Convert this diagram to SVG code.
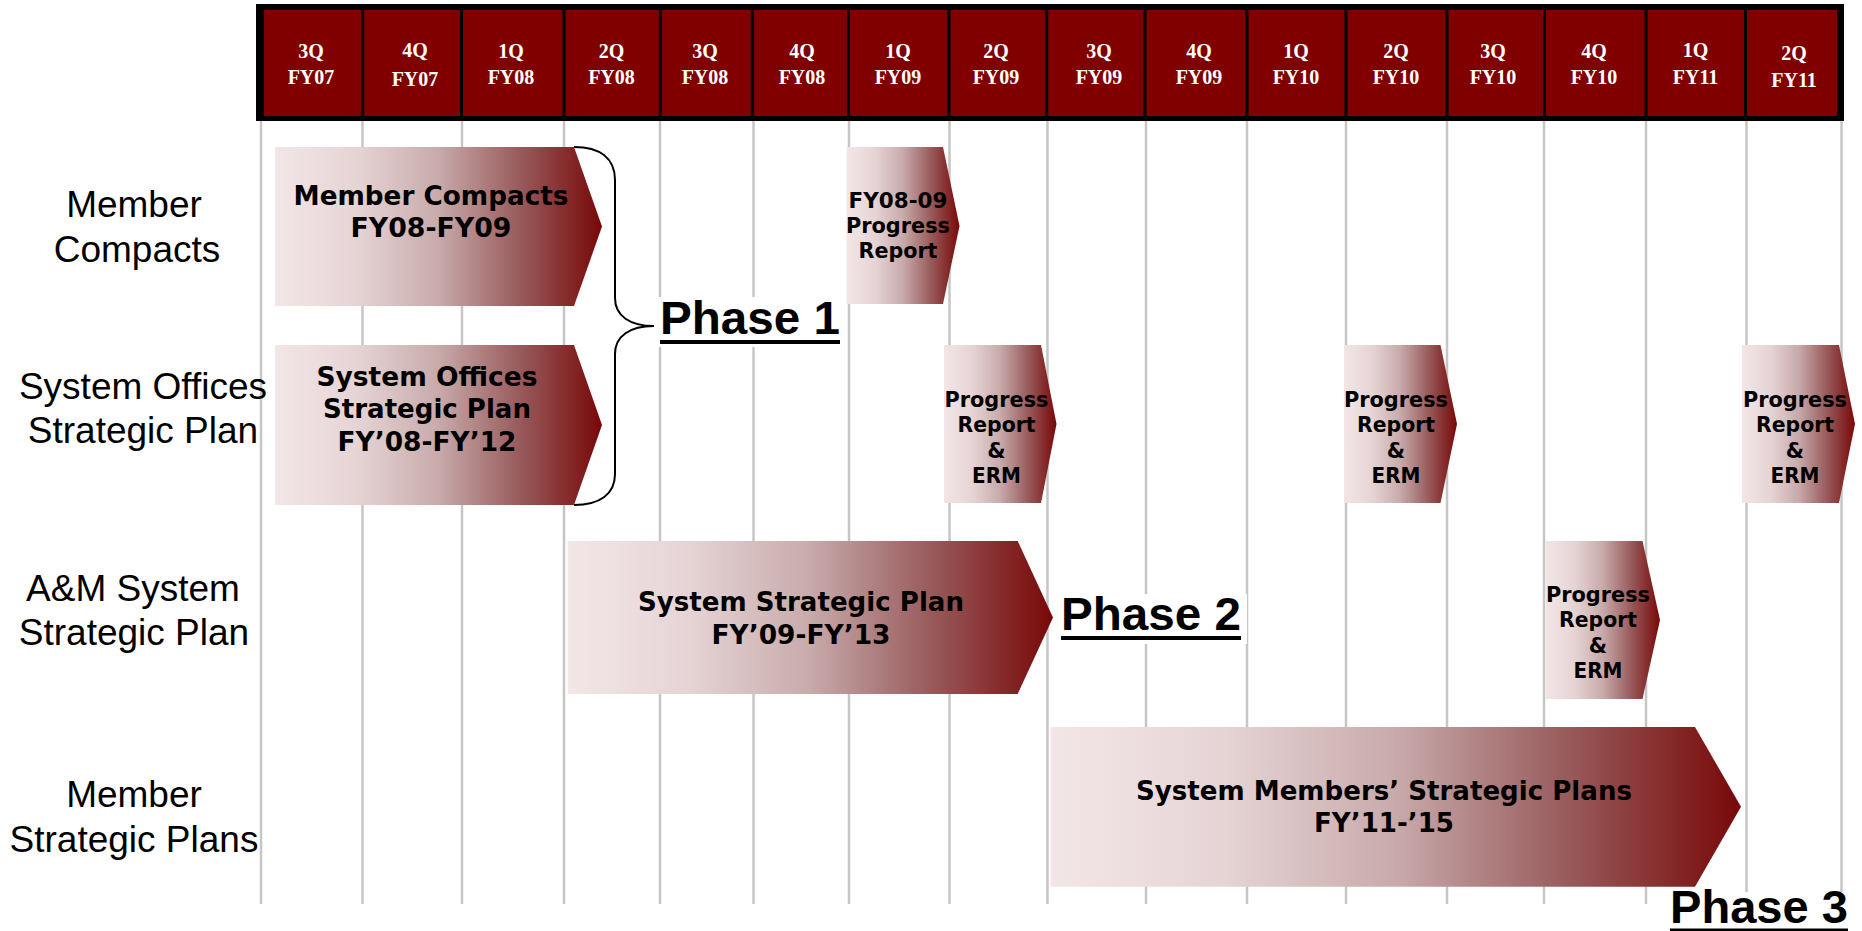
<svg xmlns="http://www.w3.org/2000/svg" width="1862" height="931" viewBox="0 0 1862 931">
<defs>
<linearGradient id="grad" x1="0" y1="0" x2="1" y2="0">
<stop offset="0" stop-color="#f3e6e7"/>
<stop offset="0.25" stop-color="#e6d4d5"/>
<stop offset="0.5" stop-color="#c8aaab"/>
<stop offset="0.75" stop-color="#985a5b"/>
<stop offset="1" stop-color="#780808"/>
</linearGradient>
<style>
.grid{stroke:#c6c6c6;stroke-width:2.5}
.div{stroke:#000;stroke-width:3}
.hdr{font-family:"Liberation Serif","Times New Roman",serif;font-weight:bold;font-size:20px;fill:#ffffff;text-anchor:middle}
.lbl{font-family:"Liberation Sans",Arial,sans-serif;font-size:37px;fill:#000;text-anchor:middle}
.box{fill:url(#grad)}
.bt{font-family:"DejaVu Sans","Noto Sans",sans-serif;font-weight:bold;font-size:26px;fill:#000;text-anchor:middle}
.st{font-family:"DejaVu Sans","Noto Sans",sans-serif;font-weight:bold;font-size:21px;fill:#000;text-anchor:middle}
.ph{font-family:"Liberation Sans",Arial,sans-serif;font-weight:bold;font-size:47px;fill:#000}
.ul{fill:#000}
</style>
</defs>
<rect x="0" y="0" width="1862" height="931" fill="#ffffff"/>

<g id="grid">
<line class="grid" x1="261" y1="121" x2="261" y2="904"/>
<line class="grid" x1="362.5" y1="121" x2="362.5" y2="904"/>
<line class="grid" x1="462" y1="121" x2="462" y2="904"/>
<line class="grid" x1="564" y1="121" x2="564" y2="904"/>
<line class="grid" x1="660" y1="121" x2="660" y2="904"/>
<line class="grid" x1="753.5" y1="121" x2="753.5" y2="904"/>
<line class="grid" x1="849" y1="121" x2="849" y2="904"/>
<line class="grid" x1="949.5" y1="121" x2="949.5" y2="904"/>
<line class="grid" x1="1047.5" y1="121" x2="1047.5" y2="904"/>
<line class="grid" x1="1146" y1="121" x2="1146" y2="904"/>
<line class="grid" x1="1247" y1="121" x2="1247" y2="904"/>
<line class="grid" x1="1346" y1="121" x2="1346" y2="904"/>
<line class="grid" x1="1447" y1="121" x2="1447" y2="904"/>
<line class="grid" x1="1544" y1="121" x2="1544" y2="904"/>
<line class="grid" x1="1646" y1="121" x2="1646" y2="904"/>
<line class="grid" x1="1746.5" y1="121" x2="1746.5" y2="904"/>
<line class="grid" x1="1841.5" y1="121" x2="1841.5" y2="904"/>
</g>

<g id="header">
<rect x="256" y="4" width="1588" height="117" fill="#000"/>
<rect x="264" y="10" width="1573" height="106" fill="#800000"/>
<line class="div" x1="362.7" y1="10" x2="362.7" y2="116"/>
<line class="div" x1="461.5" y1="10" x2="461.5" y2="116"/>
<line class="div" x1="564" y1="10" x2="564" y2="116"/>
<line class="div" x1="660.3" y1="10" x2="660.3" y2="116"/>
<line class="div" x1="752.3" y1="10" x2="752.3" y2="116"/>
<line class="div" x1="848.5" y1="10" x2="848.5" y2="116"/>
<line class="div" x1="949" y1="10" x2="949" y2="116"/>
<line class="div" x1="1046.8" y1="10" x2="1046.8" y2="116"/>
<line class="div" x1="1145" y1="10" x2="1145" y2="116"/>
<line class="div" x1="1247" y1="10" x2="1247" y2="116"/>
<line class="div" x1="1346" y1="10" x2="1346" y2="116"/>
<line class="div" x1="1447" y1="10" x2="1447" y2="116"/>
<line class="div" x1="1544.5" y1="10" x2="1544.5" y2="116"/>
<line class="div" x1="1646" y1="10" x2="1646" y2="116"/>
<line class="div" x1="1745.5" y1="10" x2="1745.5" y2="116"/>
<text class="hdr" x="311" y="58">3Q</text><text class="hdr" x="311" y="84">FY07</text>
<text class="hdr" x="415" y="57">4Q</text><text class="hdr" x="415" y="86">FY07</text>
<text class="hdr" x="511" y="58">1Q</text><text class="hdr" x="511" y="84">FY08</text>
<text class="hdr" x="611.5" y="58">2Q</text><text class="hdr" x="611.5" y="84">FY08</text>
<text class="hdr" x="705" y="58">3Q</text><text class="hdr" x="705" y="84">FY08</text>
<text class="hdr" x="802" y="58">4Q</text><text class="hdr" x="802" y="84">FY08</text>
<text class="hdr" x="898" y="58">1Q</text><text class="hdr" x="898" y="84">FY09</text>
<text class="hdr" x="996" y="58">2Q</text><text class="hdr" x="996" y="84">FY09</text>
<text class="hdr" x="1099" y="58">3Q</text><text class="hdr" x="1099" y="84">FY09</text>
<text class="hdr" x="1199" y="58">4Q</text><text class="hdr" x="1199" y="84">FY09</text>
<text class="hdr" x="1296" y="58">1Q</text><text class="hdr" x="1296" y="84">FY10</text>
<text class="hdr" x="1396" y="58">2Q</text><text class="hdr" x="1396" y="84">FY10</text>
<text class="hdr" x="1493" y="58">3Q</text><text class="hdr" x="1493" y="84">FY10</text>
<text class="hdr" x="1594" y="58">4Q</text><text class="hdr" x="1594" y="84">FY10</text>
<text class="hdr" x="1695.5" y="57">1Q</text><text class="hdr" x="1695.5" y="84">FY11</text>
<text class="hdr" x="1794" y="60">2Q</text><text class="hdr" x="1794" y="87">FY11</text>
</g>

<g id="row-labels">
<text class="lbl" x="134" y="217">Member</text>
<text class="lbl" x="137" y="262">Compacts</text>
<text class="lbl" x="143" y="399">System Offices</text>
<text class="lbl" x="143" y="443">Strategic Plan</text>
<text class="lbl" x="133" y="601">A&amp;M System</text>
<text class="lbl" x="134" y="645">Strategic Plan</text>
<text class="lbl" x="134" y="807">Member</text>
<text class="lbl" x="134" y="852">Strategic Plans</text>
</g>

<g id="phase-backgrounds" fill="#ffffff">
<rect x="655" y="297" width="190" height="50"/>
<rect x="1055" y="594" width="192" height="50"/>
<rect x="1660" y="892" width="202" height="39"/>
</g>

<g id="member-compacts">
<polygon class="box" points="275,147 574,147 602,226.5 574,306 275,306"/>
<text class="bt" x="431" y="205" textLength="275" lengthAdjust="spacingAndGlyphs">Member Compacts</text>
<text class="bt" x="431" y="237" textLength="161" lengthAdjust="spacingAndGlyphs">FY08-FY09</text>
</g>

<g id="system-offices-plan">
<polygon class="box" points="275,345 574,345 602,425 574,505 275,505"/>
<text class="bt" x="427" y="386" textLength="221" lengthAdjust="spacingAndGlyphs">System Offices</text>
<text class="bt" x="427" y="418" textLength="208" lengthAdjust="spacingAndGlyphs">Strategic Plan</text>
<text class="bt" x="427" y="451" textLength="179" lengthAdjust="spacingAndGlyphs">FY’08-FY’12</text>
</g>

<g id="fy0809-progress-report">
<polygon class="box" points="846.5,147 943,147 959.5,226 943,304 846.5,304"/>
<text class="st" x="898" y="208" textLength="99" lengthAdjust="spacingAndGlyphs">FY08-09</text>
<text class="st" x="898" y="233" textLength="104" lengthAdjust="spacingAndGlyphs">Progress</text>
<text class="st" x="898" y="258" textLength="79" lengthAdjust="spacingAndGlyphs">Report</text>
</g>

<g id="progress-erm-1">
<polygon class="box" points="944,345 1041,345 1056.5,424 1041,503 944,503"/>
<text class="st" x="996.5" y="407" textLength="104" lengthAdjust="spacingAndGlyphs">Progress</text>
<text class="st" x="996.5" y="432" textLength="78" lengthAdjust="spacingAndGlyphs">Report</text>
<text class="st" x="996.5" y="457.5">&amp;</text>
<text class="st" x="996.5" y="482.5" textLength="49" lengthAdjust="spacingAndGlyphs">ERM</text>
</g>

<g id="progress-erm-2">
<polygon class="box" points="1344,345 1440.5,345 1457,424 1440.5,503 1344,503"/>
<text class="st" x="1396" y="407" textLength="104" lengthAdjust="spacingAndGlyphs">Progress</text>
<text class="st" x="1396" y="432" textLength="78" lengthAdjust="spacingAndGlyphs">Report</text>
<text class="st" x="1396" y="457.5">&amp;</text>
<text class="st" x="1396" y="482.5" textLength="49" lengthAdjust="spacingAndGlyphs">ERM</text>
</g>

<g id="progress-erm-3">
<polygon class="box" points="1742,345 1839,345 1855,424 1839,503 1742,503"/>
<text class="st" x="1795" y="407" textLength="104" lengthAdjust="spacingAndGlyphs">Progress</text>
<text class="st" x="1795" y="432" textLength="78" lengthAdjust="spacingAndGlyphs">Report</text>
<text class="st" x="1795" y="457.5">&amp;</text>
<text class="st" x="1795" y="482.5" textLength="49" lengthAdjust="spacingAndGlyphs">ERM</text>
</g>

<g id="system-strategic-plan">
<polygon class="box" points="567.7,541 1017.7,541 1053,617.5 1017.7,694 567.7,694"/>
<text class="bt" x="801" y="611" textLength="326" lengthAdjust="spacingAndGlyphs">System Strategic Plan</text>
<text class="bt" x="801" y="644" textLength="179" lengthAdjust="spacingAndGlyphs">FY’09-FY’13</text>
</g>

<g id="progress-erm-4">
<polygon class="box" points="1545.5,541 1642.5,541 1660,620 1642.5,699 1545.5,699"/>
<text class="st" x="1598" y="602" textLength="104" lengthAdjust="spacingAndGlyphs">Progress</text>
<text class="st" x="1598" y="627" textLength="78" lengthAdjust="spacingAndGlyphs">Report</text>
<text class="st" x="1598" y="653">&amp;</text>
<text class="st" x="1598" y="678" textLength="49" lengthAdjust="spacingAndGlyphs">ERM</text>
</g>

<g id="system-members-plans">
<polygon class="box" points="1050.5,727 1695,727 1741,806.7 1695,886.7 1050.5,886.7"/>
<text class="bt" x="1384" y="800" textLength="496" lengthAdjust="spacingAndGlyphs">System Members’ Strategic Plans</text>
<text class="bt" x="1384" y="832" textLength="140" lengthAdjust="spacingAndGlyphs">FY’11-’15</text>
</g>

<g id="connectors">
<path d="M574,147 C600,147 615,158 615,180 L615,298 C615,316 630,326 654,326 C630,326 615,336 615,354 L615,474 C615,494 600,505 574,505" fill="none" stroke="#000" stroke-width="2"/>
</g>

<g id="phase-1">
<text class="ph" x="660" y="334" textLength="180" lengthAdjust="spacingAndGlyphs">Phase 1</text>
<rect class="ul" x="660" y="340" width="180" height="4"/>
</g>
<g id="phase-2">
<text class="ph" x="1061" y="630" textLength="180" lengthAdjust="spacingAndGlyphs">Phase 2</text>
<rect class="ul" x="1061" y="636" width="180" height="4"/>
</g>
<g id="phase-3">
<text class="ph" x="1670" y="923" textLength="178" lengthAdjust="spacingAndGlyphs">Phase 3</text>
<rect class="ul" x="1670" y="928.5" width="178" height="3"/>
</g>
</svg>
